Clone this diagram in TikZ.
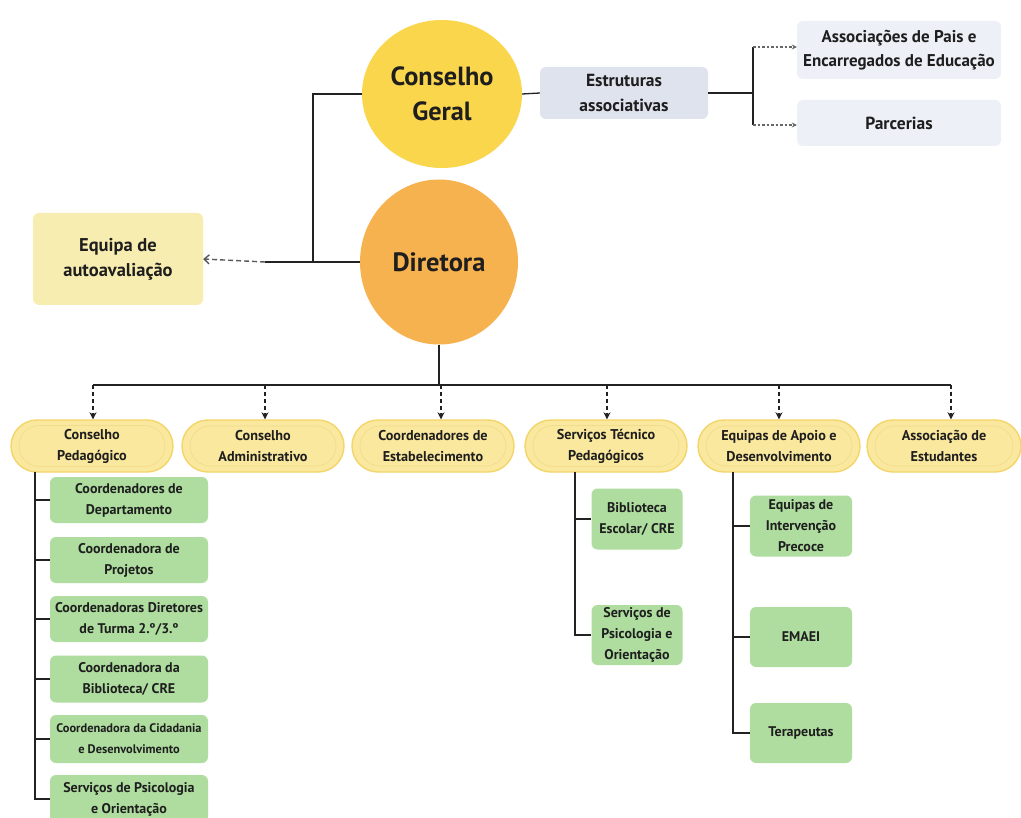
\documentclass[tikz,border=0pt]{standalone}
\usepackage{fontspec}
\setmainfont{PT Sans}
\usetikzlibrary{arrows.meta,calc,shapes.geometric}
\definecolor{cgeral}{HTML}{F9D64B}
\definecolor{cdir}{HTML}{F6B24E}
\definecolor{ceq}{HTML}{F8EDB0}
\definecolor{cest}{HTML}{DFE3EE}
\definecolor{cass}{HTML}{EDF0F6}
\definecolor{cstad}{HTML}{FAE89E}
\definecolor{cstadb}{HTML}{F3D56A}
\definecolor{cstadi}{HTML}{F0DC8C}
\definecolor{cgreen}{HTML}{AEDD9F}
\definecolor{ctext}{HTML}{1E1E1E}
\definecolor{cline}{HTML}{222222}
\tikzset{
  every node/.style={text=ctext, font=\bfseries},
  conn/.style={draw=cline, line width=1.8pt},
  busarrow/.style={draw=cline, line width=1.8pt, dash pattern=on 4pt off 3pt, -{Stealth[length=7pt,width=7pt]}},
  grayarrow/.style={draw=gray!80!black, line width=1.1pt, dash pattern=on 2.5pt off 2pt, -{Stealth[length=5pt,width=5pt]}},
  stadout/.style={draw=cstadb, line width=1.4pt, fill=cstad, minimum height=52pt, rounded corners=26pt},
  stadin/.style={draw=cstadi, line width=0.7pt, minimum height=40pt, rounded corners=20pt, align=center, font=\bfseries\fontsize{14.2}{21}\selectfont},
  gbox/.style={fill=cgreen, rounded corners=6pt, align=center, inner sep=0pt, font=\bfseries\fontsize{14}{21}\selectfont},
}
\begin{document}
\begin{tikzpicture}[x=1pt,y=-1pt]
\useasboundingbox (0,0) rectangle (1021,818);
\fill[white] (0,0) rectangle (1021,818);

% top circles
\node[ellipse, fill=cgeral, minimum width=160pt, minimum height=148pt, align=center, inner sep=0pt, font=\bfseries\fontsize{26.3}{35}\selectfont] (cg) at (442,94) {Conselho\\Geral};
\node[ellipse, fill=cdir, minimum width=158pt, minimum height=165pt, inner sep=0pt, font=\bfseries\fontsize{26.5}{30}\selectfont] (dir) at (439,262) {Diretora};

% left box
\node[fill=ceq, rounded corners=6pt, minimum width=170pt, minimum height=92pt, align=center, font=\bfseries\fontsize{18.5}{25}\selectfont] (eq) at (118,259) {Equipa de\\autoavaliação};

% estruturas
\node[fill=cest, rounded corners=6pt, minimum width=168pt, minimum height=52pt, align=center, font=\bfseries\fontsize{17.5}{25}\selectfont] (ea) at (624,93) {Estruturas\\associativas};
\node[fill=cass, rounded corners=6pt, minimum width=204pt, minimum height=58pt, align=center, font=\bfseries\fontsize{17}{24}\selectfont] (ap) at (899,50) {Associações de Pais e\\Encarregados de Educação};
\node[fill=cass, rounded corners=6pt, minimum width=204pt, minimum height=46pt, font=\bfseries\fontsize{17.5}{24}\selectfont] (pa) at (899,123) {Parcerias};

% top connectors
\coordinate (jt) at (313,262);
\coordinate (ka) at (265,262);
\draw[conn] (cg.west) -| (jt);
\draw[conn] (dir.west) -- (ka);
\draw[draw=gray!70!black, line width=1.4pt, dash pattern=on 5pt off 3pt, -{Straight Barb[length=5pt,width=9pt]}] (ka) -- (eq.east);
\draw[draw=cline, line width=1.3pt] (cg.east) -- (ea.west);
\coordinate (m0) at (753,93);
\coordinate (m1) at (753,47);
\coordinate (m2) at (753,125);
\draw[draw=cline, line width=1.3pt] (ea.east) -- (m0);
\draw[draw=cline, line width=1.3pt] (m1) -- (m2);
\draw[grayarrow] (m1) -- (ap.west |- m1);
\draw[grayarrow] (m2) -- (pa.west |- m2);

% stadiums
\node[stadout, minimum width=162pt] (s1o) at (92,446) {};
\node[stadin, minimum width=146pt] (s1) at (s1o) {Conselho\\Pedagógico};
\node[stadout, minimum width=162pt] (s2o) at (263,446) {};
\node[stadin, minimum width=146pt] (s2) at (s2o) {Conselho\\Administrativo};
\node[stadout, minimum width=162pt] (s3o) at (433,446) {};
\node[stadin, minimum width=146pt] (s3) at (s3o) {Coordenadores de\\Estabelecimento};
\node[stadout, minimum width=162pt] (s4o) at (606,446) {};
\node[stadin, minimum width=146pt] (s4) at (s4o) {Serviços Técnico\\Pedagógicos};
\node[stadout, minimum width=162pt] (s5o) at (779,446) {};
\node[stadin, minimum width=146pt] (s5) at (s5o) {Equipas de Apoio e\\Desenvolvimento};
\node[stadout, minimum width=154pt] (s6o) at (944,446) {};
\node[stadin, minimum width=138pt] (s6) at (s6o) {Associação de\\Estudantes};

% bus
\coordinate (bc) at (439,385);
\coordinate (b1) at (93,385);
\coordinate (b2) at (265,385);
\coordinate (b3) at (441,385);
\coordinate (b4) at (607,385);
\coordinate (b5) at (779,385);
\coordinate (b6) at (951,385);
\draw[conn] (dir.south) -- (bc);
\draw[conn] (b1) -- (b6);
\draw[busarrow] (b1) -- (b1 |- s1o.north);
\draw[busarrow] (b2) -- (b2 |- s2o.north);
\draw[busarrow] (b3) -- (b3 |- s3o.north);
\draw[busarrow] (b4) -- (b4 |- s4o.north);
\draw[busarrow] (b5) -- (b5 |- s5o.north);
\draw[busarrow] (b6) -- (b6 |- s6o.north);

% Conselho Pedagogico children
\node[gbox, minimum width=158pt, minimum height=46pt] (g1) at (129,500) {Coordenadores de\\Departamento};
\node[gbox, minimum width=158pt, minimum height=46pt] (g2) at (129,560) {Coordenadora de\\Projetos};
\node[gbox, minimum width=158pt, minimum height=46pt] (g3) at (129,619) {Coordenadoras Diretores\\de Turma 2.º/3.º};
\node[gbox, minimum width=158pt, minimum height=47pt] (g4) at (129,679) {Coordenadora da\\Biblioteca/ CRE};
\node[gbox, minimum width=158pt, minimum height=48pt, font=\bfseries\fontsize{12.4}{21}\selectfont] (g5) at (129,739) {Coordenadora da Cidadania\\e Desenvolvimento};
\node[gbox, minimum width=158pt, minimum height=48pt] (g6) at (129,799) {Serviços de Psicologia\\e Orientação};
\coordinate (p0) at (35,472);
\draw[conn] (p0) |- (g6.west);
\foreach \g in {g1,g2,g3,g4,g5} \draw[conn] (\g.west -| p0) -- (\g.west);

% Servicos Tecnico children
\node[gbox, minimum width=91pt, minimum height=61pt] (t1) at (637,519) {Biblioteca\\Escolar/ CRE};
\node[gbox, minimum width=91pt, minimum height=60pt] (t2) at (637,635) {Serviços de\\Psicologia e\\Orientação};
\coordinate (q0) at (575,472);
\draw[conn] (q0) |- (t2.west);
\draw[conn] (t1.west -| q0) -- (t1.west);

% Equipas children
\node[gbox, minimum width=102pt, minimum height=61pt] (e1) at (801,526) {Equipas de\\Intervenção\\Precoce};
\node[gbox, minimum width=102pt, minimum height=60pt] (e2) at (801,637) {EMAEI};
\node[gbox, minimum width=102pt, minimum height=60pt] (e3) at (801,733) {Terapeutas};
\coordinate (r0) at (733,472);
\draw[conn] (r0) |- (e3.west);
\draw[conn] (e1.west -| r0) -- (e1.west);
\draw[conn] (e2.west -| r0) -- (e2.west);
\end{tikzpicture}
\end{document}
